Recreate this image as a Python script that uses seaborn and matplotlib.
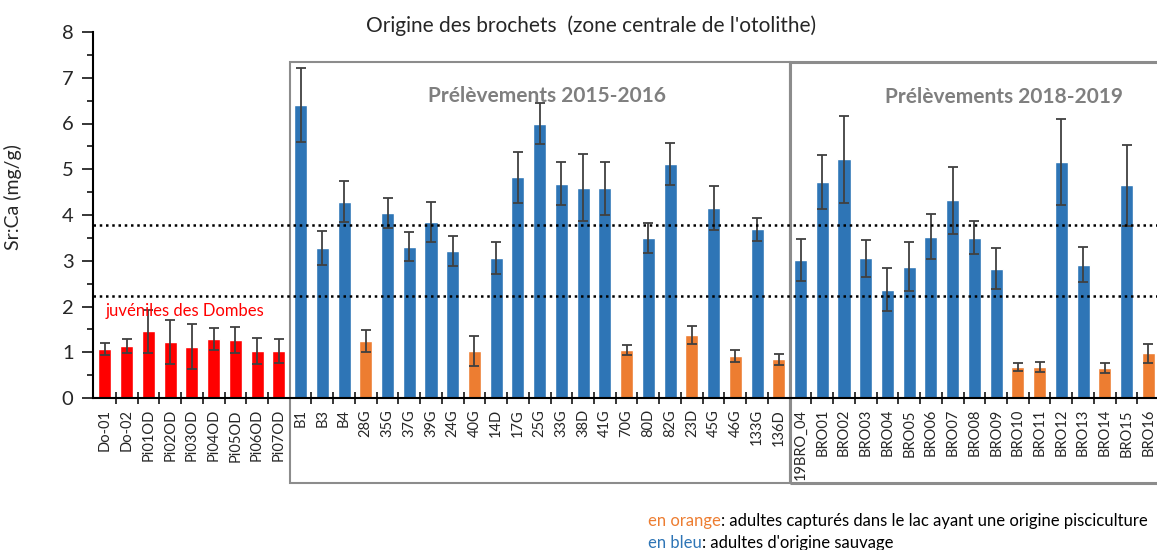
import numpy as np
import pandas as pd
import matplotlib
matplotlib.use('Agg')
import matplotlib.pyplot as plt
import seaborn as sns
from matplotlib.patches import Rectangle

# sample labels, groups and Sr:Ca values
labels = ['Do-01', 'Do-02', 'Pi01OD', 'Pi02OD', 'Pi03OD', 'Pi04OD', 'Pi05OD', 'Pi06OD', 'Pi07OD',
          'B1', 'B3', 'B4', '28G', '35G', '37G', '39G', '24G', '40G', '14D', '17G', '25G', '33G',
          '38D', '41G', '70G', '80D', '82G', '23D', '45G', '46G', '133G', '136D',
          '19BRO_04', 'BRO01', 'BRO02', 'BRO03', 'BRO04', 'BRO05', 'BRO06', 'BRO07', 'BRO08',
          'BRO09', 'BRO10', 'BRO11', 'BRO12', 'BRO13', 'BRO14', 'BRO15', 'BRO16']
groups = (['juv'] * 9 +
          ['wild', 'wild', 'wild', 'farm', 'wild', 'wild', 'wild', 'wild', 'farm', 'wild', 'wild',
           'wild', 'wild', 'wild', 'wild', 'farm', 'wild', 'wild', 'farm', 'wild', 'farm', 'wild', 'farm'] +
          ['wild'] * 10 + ['farm', 'farm', 'wild', 'wild', 'farm', 'wild', 'farm'])
srca = [1.08, 1.13, 1.46, 1.22, 1.12, 1.29, 1.27, 1.03, 1.03,
        6.40, 3.28, 4.29, 1.25, 4.05, 3.31, 3.84, 3.21, 1.03, 3.06, 4.82, 6.00, 4.68,
        4.60, 4.58, 1.04, 3.49, 5.11, 1.37, 4.15, 0.92, 3.69, 0.85,
        3.02, 4.73, 5.22, 3.05, 2.37, 2.87, 3.53, 4.32, 3.50,
        2.83, 0.68, 0.68, 5.16, 2.91, 0.66, 4.65, 0.98]
err = [0.13, 0.15, 0.47, 0.48, 0.49, 0.24, 0.29, 0.29, 0.26,
       0.81, 0.37, 0.45, 0.24, 0.33, 0.32, 0.44, 0.33, 0.32, 0.36, 0.56, 0.44, 0.47,
       0.74, 0.57, 0.11, 0.33, 0.46, 0.20, 0.48, 0.13, 0.25, 0.12,
       0.46, 0.59, 0.95, 0.41, 0.47, 0.53, 0.50, 0.74, 0.36,
       0.45, 0.08, 0.11, 0.94, 0.38, 0.11, 0.89, 0.21]
thresholds = [3.78, 2.24]

colors = {'juv': '#FF0000', 'wild': '#2E75B6', 'farm': '#ED7D31'}

df = pd.DataFrame({'label': labels, 'group': groups, 'srca': srca, 'err': err})

sns.set_style("white")
plt.rcParams['font.family'] = ['Lato', 'DejaVu Sans']

fig = plt.figure(figsize=(11.57, 5.5), dpi=100)
ax = fig.add_axes([93 / 1157, 1 - 398 / 550, 1 - 93 / 1157, (398 - 32) / 550])

sns.barplot(data=df, x='label', y='srca', hue='group', palette=colors, dodge=False,
            width=0.6, legend=False, ax=ax, saturation=1, zorder=2)
ax.errorbar(np.arange(len(df)), df['srca'], yerr=df['err'], fmt='none',
            ecolor='#404040', elinewidth=1.3, capsize=3.5, capthick=1.3, zorder=3)

for t in thresholds:
    ax.axhline(t, color='black', linestyle=(0, (1, 1.5)), linewidth=1.8, zorder=4)

# axes customisation
ax.set_xlim(-0.55, 48.4)
ax.set_ylim(0, 8)
ax.set_yticks(range(0, 9))
ax.set_yticks(np.arange(0.5, 8, 1), minor=True)
ax.tick_params(axis='y', which='major', length=8, width=1.3, labelsize=14.5, pad=6, left=True)
ax.tick_params(axis='y', which='minor', length=4, width=1.3, left=True)
ax.set_xticks(range(len(df)))
ax.set_xticklabels(labels, rotation=90, fontsize=10.5)
ax.set_xticks(np.arange(0.5, len(df) - 1, 1), minor=True)
ax.tick_params(axis='x', which='major', length=0, pad=8)
ax.tick_params(axis='x', which='minor', length=8, width=1.3, direction='inout', bottom=True)
ax.set_xlabel('')
ax.set_ylabel('Sr:Ca (mg/g)', fontsize=14)
ax.yaxis.set_label_coords(-0.067, 0.55)

sns.despine(ax=ax)
for side in ['left', 'bottom']:
    ax.spines[side].set_color('black')
    ax.spines[side].set_linewidth(1.5)

# grey boxes around the two sampling periods
box_top, box_bottom = 7.34, -1.86
ax.add_patch(Rectangle((8.5, box_bottom), 23, box_top - box_bottom, fill=False,
                       edgecolor='#8C8C8C', linewidth=1.5, clip_on=False, zorder=1))
ax.add_patch(Rectangle((31.5, box_bottom), 20, box_top - box_bottom, fill=False,
                       edgecolor='#8C8C8C', linewidth=2.2, clip_on=False, zorder=1))

ax.text(20.35, 6.6, 'Prélèvements 2015-2016', ha='center', va='center', fontsize=15,
        fontweight='bold', color='#7F7F7F')
ax.text(41.35, 6.58, 'Prélèvements 2018-2019', ha='center', va='center', fontsize=15,
        fontweight='bold', color='#7F7F7F')
ax.text(0.05, 1.91, 'juvéniles des Dombes', ha='left', va='center', fontsize=12, color='#FF0000')

fig.text(591 / 1157, 1 - 26 / 550, "Origine des brochets  (zone centrale de l'otolithe)",
         ha='center', va='center', fontsize=15)

# colour notes at the bottom
t1 = fig.text(648 / 1157, 1 - 521 / 550, 'en orange', color='#ED7D31', fontsize=12, va='center')
fig.canvas.draw()
bb = t1.get_window_extent()
fig.text(bb.x1 / 1157, 1 - 521 / 550, ': adultes capturés dans le lac ayant une origine pisciculture',
         color='black', fontsize=12, va='center')
t2 = fig.text(648 / 1157, 1 - 543 / 550, 'en bleu', color='#2E75B6', fontsize=12, va='center')
fig.canvas.draw()
bb = t2.get_window_extent()
fig.text(bb.x1 / 1157, 1 - 543 / 550, ": adultes d'origine sauvage",
         color='black', fontsize=12, va='center')

fig.savefig('out.png', dpi=100)
